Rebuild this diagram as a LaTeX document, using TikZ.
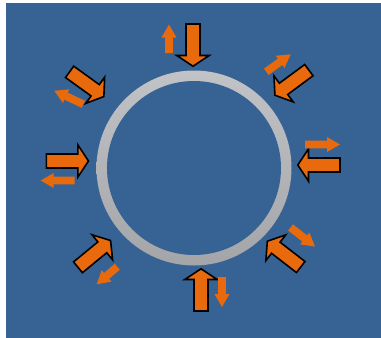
\documentclass[tikz,border=0pt]{standalone}
\definecolor{bgblue}{RGB}{54,99,148}
\definecolor{arrorange}{RGB}{233,106,12}
\definecolor{ringtop}{RGB}{194,195,199}
\definecolor{ringbot}{RGB}{164,165,169}
\tikzset{
  bigarrow/.pic={\filldraw[fill=arrorange,draw=black,line width=1.6pt,line join=miter]
    (-0.8,0) -- (-11.5,16.2) -- (-11.5,7) -- (-43,7) -- (-43,-7) -- (-11.5,-7) -- (-11.5,-16.2) -- cycle;},
  pics/smallarrow/.style={code={\fill[arrorange]
    (0,0) -- (-13,7.5) -- (-13,3.9) -- (-#1,3.9) -- (-#1,-3.9) -- (-13,-3.9) -- (-13,-7.5) -- cycle;}}
}
\begin{document}
\begin{tikzpicture}[x=1pt,y=-1pt]
\useasboundingbox (0,0) rectangle (381,338);
\fill[bgblue] (6,3) rectangle (381,337.5);
% ring
\coordinate (c) at (194,168);
\shade[top color=ringtop,bottom color=ringbot] (c) circle (97.5);
\fill[bgblue] (c) circle (87);
% big arrows
\pic[rotate=-90] at (193,67) {bigarrow};
\pic[rotate=-143.5] at (274.3,95.7) {bigarrow};
\pic[rotate=180] at (297,165) {bigarrow};
\pic[rotate=142.3] at (266.7,240.7) {bigarrow};
\pic[rotate=90] at (201,268) {bigarrow};
\pic[rotate=39.4] at (111.2,240) {bigarrow};
\pic[rotate=0] at (89.3,161) {bigarrow};
\pic[rotate=-35.8] at (104.5,97) {bigarrow};
% small arrows
\pic[rotate=90] at (169,24.5) {smallarrow=28.5};
\pic[rotate=35.6] at (290.7,54.3) {smallarrow=30};
\pic[rotate=0] at (340,144.5) {smallarrow=35};
\pic[rotate=-38] at (315,246.5) {smallarrow=31};
\pic[rotate=-90] at (222,307) {smallarrow=30};
\pic[rotate=-139.5] at (96.7,284.3) {smallarrow=27};
\pic[rotate=180] at (40.7,180.5) {smallarrow=34};
\pic[rotate=155] at (54.3,90.7) {smallarrow=32};
\end{tikzpicture}
\end{document}
